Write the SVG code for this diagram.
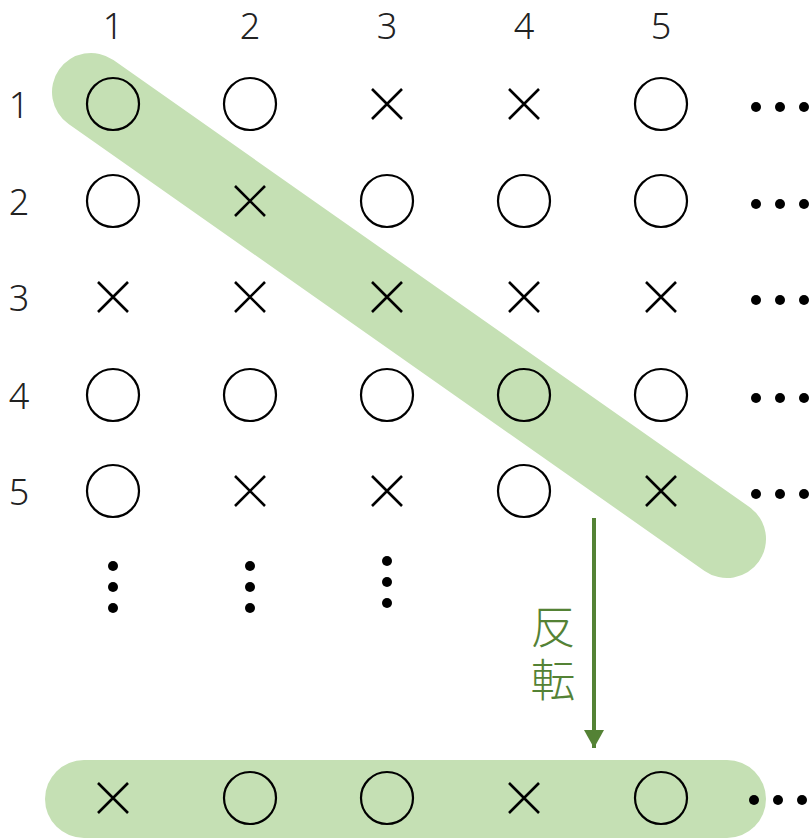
<svg xmlns="http://www.w3.org/2000/svg" width="811" height="838" viewBox="0 0 811 838">
<style>
.o{fill:none;stroke:#000;stroke-width:2.2}
.x{stroke:#000;stroke-width:2.6;fill:none}
.d{fill:#000}
.lbl{font-family:"Noto Sans","Noto Sans CJK JP",sans-serif;font-size:36px;font-weight:300;fill:#222;text-anchor:middle}
.jp{font-family:"Noto Sans CJK JP",sans-serif;font-size:45px;font-weight:300;fill:#548235}
</style>
<defs>
<circle id="O" class="o" r="26"/>
<path id="X" class="x" d="M-15,-15L15,15M15,-15L-15,15"/>
<g id="H"><circle class="d" cx="0" r="5"/><circle class="d" cx="24" r="5"/><circle class="d" cx="48" r="5"/></g>
<g id="V"><circle class="d" cy="0" r="5"/><circle class="d" cy="21" r="5"/><circle class="d" cy="42" r="5"/></g>
<marker id="ah" markerWidth="5" markerHeight="5" refX="4.5" refY="2.5" orient="auto" markerUnits="strokeWidth"><path d="M0,0L4.5,2.5L0,5z" fill="#548235"/></marker>
</defs>
<g id="highlight">
<line x1="91" y1="92" x2="727" y2="539" stroke="#c5e0b4" stroke-width="78" stroke-linecap="round"/>
<rect x="45" y="760" width="721" height="78" rx="39" fill="#c5e0b4"/>
</g>
<g id="headers">
<text class="lbl" x="113" y="39">1</text>
<text class="lbl" x="250" y="39">2</text>
<text class="lbl" x="387" y="39">3</text>
<text class="lbl" x="524" y="39">4</text>
<text class="lbl" x="661" y="39">5</text>
<text class="lbl" x="19" y="118">1</text>
<text class="lbl" x="19" y="215">2</text>
<text class="lbl" x="19" y="311">3</text>
<text class="lbl" x="19" y="409">4</text>
<text class="lbl" x="19" y="505">5</text>
</g>
<g id="row1">
<use href="#O" x="113" y="104"/><use href="#O" x="250" y="104"/><use href="#X" x="387" y="104"/><use href="#X" x="524" y="104"/><use href="#O" x="661" y="104"/><use href="#H" x="756" y="107"/>
</g>
<g id="row2">
<use href="#O" x="113" y="201"/><use href="#X" x="250" y="201"/><use href="#O" x="387" y="201"/><use href="#O" x="524" y="201"/><use href="#O" x="661" y="201"/><use href="#H" x="756" y="204"/>
</g>
<g id="row3">
<use href="#X" x="113" y="297"/><use href="#X" x="250" y="297"/><use href="#X" x="387" y="297"/><use href="#X" x="524" y="297"/><use href="#X" x="661" y="297"/><use href="#H" x="756" y="300"/>
</g>
<g id="row4">
<use href="#O" x="113" y="395"/><use href="#O" x="250" y="395"/><use href="#O" x="387" y="395"/><use href="#O" x="524" y="395"/><use href="#O" x="661" y="395"/><use href="#H" x="756" y="398"/>
</g>
<g id="row5">
<use href="#O" x="113" y="491"/><use href="#X" x="250" y="491"/><use href="#X" x="387" y="491"/><use href="#O" x="524" y="491"/><use href="#X" x="661" y="491"/><use href="#H" x="756" y="494"/>
</g>
<g id="vdots">
<use href="#V" x="113" y="566"/><use href="#V" x="250" y="566"/><use href="#V" x="387" y="561"/>
</g>
<g id="connectors">
<line x1="594" y1="518" x2="594" y2="748" stroke="#548235" stroke-width="4" marker-end="url(#ah)"/>
</g>
<g id="label">
<text class="jp" x="553" y="604" writing-mode="vertical-rl" letter-spacing="8">反転</text>
</g>
<g id="result">
<use href="#X" x="113" y="798"/><use href="#O" x="250" y="798"/><use href="#O" x="387" y="798"/><use href="#X" x="524" y="798"/><use href="#O" x="661" y="798"/><use href="#H" x="754" y="800"/>
</g>
</svg>
